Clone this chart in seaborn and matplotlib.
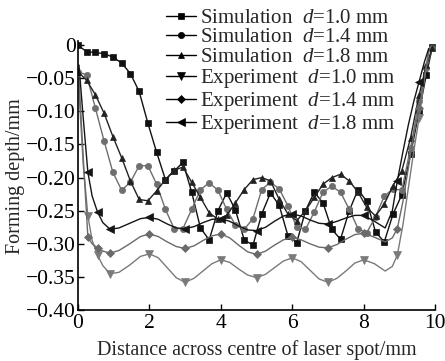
import matplotlib
matplotlib.use("Agg")
import matplotlib.pyplot as plt
import seaborn as sns
import pandas as pd

# ---------------- data ----------------
sim_x = [0.0, 0.245, 0.49, 0.735, 0.98, 1.225, 1.47, 1.715, 1.96, 2.205,
         2.45, 2.695, 2.94, 3.185, 3.43, 3.675, 3.92, 4.165, 4.41, 4.655,
         4.9, 5.145, 5.39, 5.635, 5.88, 6.125, 6.37, 6.615, 6.86, 7.105,
         7.35, 7.595, 7.84, 8.085, 8.33, 8.575, 8.82, 9.065, 9.31, 9.55,
         9.75, 9.92]
sim_d10 = [0.0, -0.010, -0.011, -0.013, -0.018, -0.027, -0.043, -0.070, -0.118, -0.162,
           -0.203, -0.190, -0.177, -0.222, -0.276, -0.294, -0.250, -0.223, -0.249, -0.294,
           -0.302, -0.255, -0.223, -0.242, -0.288, -0.298, -0.250, -0.222, -0.238, -0.278,
           -0.293, -0.250, -0.218, -0.236, -0.282, -0.297, -0.255, -0.226, -0.165, -0.100,
           -0.045, -0.003]
sim_d14 = [-0.040, -0.045, -0.095, -0.145, -0.192, -0.219, -0.207, -0.182, -0.182, -0.210,
           -0.248, -0.277, -0.277, -0.248, -0.218, -0.208, -0.219, -0.248, -0.272, -0.278,
           -0.262, -0.218, -0.207, -0.217, -0.243, -0.275, -0.278, -0.252, -0.222, -0.213,
           -0.222, -0.248, -0.277, -0.283, -0.259, -0.228, -0.217, -0.219, -0.155, -0.085,
           -0.035, -0.005]
sim_d18 = [-0.040, -0.053, -0.075, -0.103, -0.138, -0.170, -0.205, -0.233, -0.235, -0.220,
           -0.203, -0.189, -0.184, -0.207, -0.230, -0.253, -0.263, -0.257, -0.238, -0.218,
           -0.203, -0.200, -0.205, -0.233, -0.255, -0.265, -0.250, -0.230, -0.210, -0.200,
           -0.195, -0.205, -0.222, -0.245, -0.258, -0.240, -0.212, -0.190, -0.140, -0.075,
           -0.030, -0.005]

exp_x = [0.03, 0.15, 0.28, 0.4, 0.55, 0.7, 0.9, 1.15, 1.45, 1.75, 2.0, 2.25,
         2.5, 2.75, 3.0, 3.25, 3.5, 3.75, 4.0, 4.25, 4.5, 4.75, 5.0, 5.25,
         5.5, 5.75, 6.0, 6.25, 6.5, 6.75, 7.0, 7.25, 7.5, 7.75, 8.0, 8.3,
         8.6, 8.8, 8.94, 9.1, 9.25, 9.4, 9.55, 9.7, 9.82]
exp_d10 = [-0.070, -0.180, -0.258, -0.295, -0.317, -0.333, -0.345, -0.343, -0.332, -0.319,
           -0.315, -0.321, -0.336, -0.351, -0.358, -0.352, -0.341, -0.330, -0.324, -0.328,
           -0.338, -0.347, -0.351, -0.346, -0.336, -0.326, -0.321, -0.327, -0.340, -0.353,
           -0.358, -0.352, -0.341, -0.329, -0.324, -0.330, -0.341, -0.334, -0.317, -0.270,
           -0.215, -0.160, -0.110, -0.050, -0.010]
exp_d14 = [-0.050, -0.170, -0.290, -0.300, -0.306, -0.311, -0.314, -0.310, -0.300, -0.289,
           -0.285, -0.289, -0.297, -0.304, -0.307, -0.303, -0.295, -0.288, -0.285, -0.291,
           -0.302, -0.312, -0.316, -0.311, -0.302, -0.294, -0.290, -0.294, -0.300, -0.305,
           -0.306, -0.301, -0.293, -0.286, -0.284, -0.290, -0.297, -0.291, -0.277, -0.235,
           -0.185, -0.135, -0.095, -0.050, -0.008]
exp_d18 = [-0.030, -0.110, -0.192, -0.228, -0.252, -0.268, -0.278, -0.276, -0.269, -0.262,
           -0.260, -0.263, -0.270, -0.276, -0.277, -0.274, -0.268, -0.263, -0.262, -0.266,
           -0.273, -0.279, -0.280, -0.275, -0.266, -0.258, -0.255, -0.258, -0.264, -0.269,
           -0.270, -0.266, -0.261, -0.257, -0.257, -0.266, -0.276, -0.250, -0.205, -0.160,
           -0.120, -0.085, -0.055, -0.025, -0.005]
exp_marks = [2, 4, 6, 10, 14, 18, 22, 26, 30, 34, 38, 42]

labels = ["Simulation  $d$=1.0 mm", "Simulation  $d$=1.4 mm", "Simulation  $d$=1.8 mm",
          "Experiment  $d$=1.0 mm", "Experiment  $d$=1.4 mm", "Experiment  $d$=1.8 mm"]
ytick_vals = [0, -0.05, -0.10, -0.15, -0.20, -0.25, -0.30, -0.35, -0.40]
ytick_labels = ["0", "\u22120.05", "\u22120.10", "\u22120.15", "\u22120.20",
                "\u22120.25", "\u22120.30", "\u22120.35", "\u22120.40"]
xtick_vals = [0, 2, 4, 6, 8, 10]

# ---------------- style ----------------
sns.set_style("ticks")
plt.rcParams["font.family"] = ["Liberation Serif", "DejaVu Serif"]
plt.rcParams["mathtext.fontset"] = "custom"
plt.rcParams["mathtext.rm"] = "Liberation Serif"
plt.rcParams["mathtext.it"] = "Liberation Serif:italic"
FS_LAB = 14.5
FS_LEG = 15
FS_TICK = 15.5

fig = plt.figure(figsize=(4.45, 3.61), dpi=100)
ax = fig.add_axes([0.175, 0.141, 0.803, 0.745])

series = [
    (sim_x, sim_d10, "s", "#111111", None, 4.5),
    (sim_x, sim_d14, "o", "#6e6e6e", None, 4.5),
    (sim_x, sim_d18, "^", "#222222", None, 5.0),
    (exp_x, exp_d10, "v", "#7a7a7a", exp_marks, 5.5),
    (exp_x, exp_d14, "D", "#6a6a6a", exp_marks, 4.2),
    (exp_x, exp_d18, "<", "#151515", exp_marks, 5.5),
]
for (xs, ys, mk, col, me, ms), lab in zip(series, labels):
    df = pd.DataFrame({"x": xs, "y": ys})
    kw = {}
    if me is not None:
        kw["markevery"] = me
    sns.lineplot(data=df, x="x", y="y", ax=ax, color=col, marker=mk,
                 markersize=ms, mec=col, mfc=col, mew=0.5, linewidth=1.0,
                 label=lab, sort=False, estimator=None, **kw)

ax.set_xlim(0, 10)
ax.set_ylim(-0.40, 0.006)
ax.set_xticks(xtick_vals)
ax.set_xticklabels([str(v) for v in xtick_vals], fontsize=FS_TICK)
ax.set_yticks(ytick_vals)
ax.set_yticklabels(ytick_labels, fontsize=FS_TICK)
ax.tick_params(direction="in", length=4, width=1, colors="black")
ax.tick_params(axis="y", pad=1.5)
ax.tick_params(axis="x", pad=3)
for s in ["top", "right"]:
    ax.spines[s].set_visible(False)
for s in ["left", "bottom"]:
    ax.spines[s].set_linewidth(1.2)
    ax.spines[s].set_color("black")

ax.set_xlabel("Distance across centre of laser spot/mm", fontsize=FS_LAB, labelpad=5)
ax.set_ylabel("Forming depth/mm", fontsize=FS_LAB, labelpad=1)

leg = ax.legend(loc="upper left", bbox_to_anchor=(0.372, 0.977),
                bbox_transform=fig.transFigure, frameon=False, fontsize=FS_LEG,
                borderpad=0, borderaxespad=0, handlelength=1.45,
                handletextpad=0.2, labelspacing=0.0)
for h in leg.legend_handles:
    h.set_color("black")
    h.set_markerfacecolor("black")
    h.set_markeredgecolor("black")

fig.savefig("out.png", dpi=100)
